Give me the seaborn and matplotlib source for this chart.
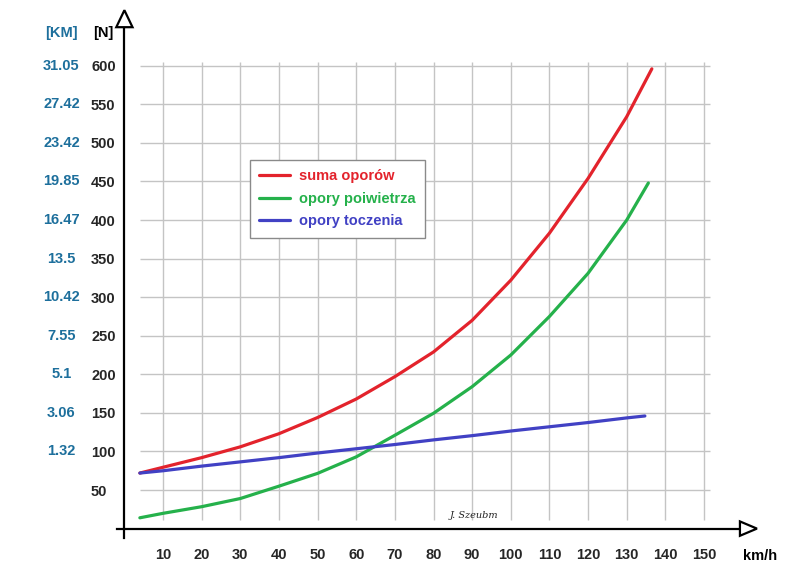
import numpy as np
import pandas as pd
import matplotlib
matplotlib.use("Agg")
import matplotlib.pyplot as plt
import seaborn as sns
from matplotlib.patches import Polygon
from matplotlib.lines import Line2D

# ---- data ----
speed_suma = [4, 10, 20, 30, 40, 50, 60, 70, 80, 90, 100, 110, 120, 130, 136.5]
suma_oporow = [72, 79.5, 92, 106, 123, 144, 168, 197, 229, 270, 322, 383, 454, 534, 596]

speed_pow = [4, 10, 20, 30, 40, 50, 60, 70, 80, 90, 100, 110, 120, 130, 135.6]
opory_powietrza = [14, 19.8, 28.4, 39, 55, 71.6, 93, 121, 149.5, 184, 225, 275, 331, 400, 448]

speed_tocz = [4, 10, 20, 30, 40, 50, 60, 70, 80, 90, 100, 110, 120, 130, 134.7]
opory_toczenia = [72, 75, 81, 86.5, 92, 98, 103.5, 109, 115, 120.5, 126.5, 132, 137.5, 143.5, 146]

series_names = ["suma oporów", "opory poiwietrza", "opory toczenia"]
series_colors = ["#e3232c", "#25b14b", "#4141c4"]

x_ticks = [10, 20, 30, 40, 50, 60, 70, 80, 90, 100, 110, 120, 130, 140, 150]
n_ticks = [50, 100, 150, 200, 250, 300, 350, 400, 450, 500, 550, 600]
km_ticks = [100, 150, 200, 250, 300, 350, 400, 450, 500, 550, 600]
km_labels = ["1.32", "3.06", "5.1", "7.55", "10.42", "13.5", "16.47", "19.85", "23.42", "27.42", "31.05"]

df = pd.concat([
    pd.DataFrame({"v": speed_suma, "F": suma_oporow, "s": series_names[0]}),
    pd.DataFrame({"v": speed_pow, "F": opory_powietrza, "s": series_names[1]}),
    pd.DataFrame({"v": speed_tocz, "F": opory_toczenia, "s": series_names[2]}),
], ignore_index=True)

sns.set_style("white")
FONT = ["Liberation Sans", "DejaVu Sans"]
plt.rcParams["font.family"] = FONT
plt.rcParams["font.weight"] = "bold"
FS = 10.5

fig = plt.figure(figsize=(8, 5.78), dpi=100)
ax = fig.add_axes([0, 0, 1, 1])
# pixel mapping: origin at (124.4, 528.6), 3.864 px per km/h, 0.7714 px per N
px_x, px_y = 3.864, 0.7714
ox, oy = 124.4, 528.6
ax.set_xlim(-ox / px_x, (800 - ox) / px_x)
ax.set_ylim(-(578 - oy) / px_y, oy / px_y)

# grid
ax.hlines(n_ticks, 4, 151.6, color="#c4c4c4", lw=1.0, zorder=1)
ax.vlines(x_ticks, 11, 605, color="#c4c4c4", lw=1.0, zorder=1)

sns.lineplot(data=df, x="v", y="F", hue="s", palette=series_colors, lw=2.3,
             ax=ax, legend=False, zorder=3, sort=False, estimator=None)
ax.set_xlabel("")
ax.set_ylabel("")

# axes lines
for sp in ["top", "right"]:
    ax.spines[sp].set_visible(False)
ax.spines["left"].set_position(("data", 0))
ax.spines["bottom"].set_position(("data", 0))
ax.spines["left"].set_bounds(-12.5, 650)
ax.spines["bottom"].set_bounds(-1.8, 159.3)
for sp in ["left", "bottom"]:
    ax.spines[sp].set_linewidth(1.6)
    ax.spines[sp].set_color("black")

# arrowheads
ax.add_patch(Polygon([[0, 672], [-2.1, 650], [2.1, 650]], closed=True, fc="white",
                     ec="black", lw=1.6, clip_on=False, zorder=5))
ax.add_patch(Polygon([[163.7, 0], [159.3, 9.3], [159.3, -9.3]], closed=True, fc="white",
                     ec="black", lw=1.6, clip_on=False, zorder=5))

# ticks
ax.set_xticks(x_ticks)
ax.set_xticklabels([str(t) for t in x_ticks])
ax.set_yticks(n_ticks)
ax.set_yticklabels([str(t) for t in n_ticks])
ax.tick_params(axis="x", direction="out", length=6, width=1.6, pad=8, labelsize=FS)
ax.tick_params(axis="y", direction="in", length=6, width=1.6, pad=24, labelsize=FS)
for lab in ax.get_yticklabels():
    lab.set_ha("left")
    lab.set_fontweight("bold")
for lab in ax.get_xticklabels():
    lab.set_fontweight("bold")

# KM column
km_color = "#1d6f9c"
for val, lab in zip(km_ticks, km_labels):
    ax.text((61.5 - ox) / px_x, val, lab, ha="center", va="center", color=km_color,
            fontsize=FS, fontweight="bold")
ax.text((61.5 - ox) / px_x, (oy - 33) / px_y, "[KM]", ha="center", va="center",
        color=km_color, fontsize=FS, fontweight="bold")
ax.text((103 - ox) / px_x, (oy - 33) / px_y, "[N]", ha="center", va="center",
        color="black", fontsize=FS, fontweight="bold")
ax.text((760 - ox) / px_x, (oy - 556) / px_y, "km/h", ha="center", va="center",
        color="black", fontsize=FS, fontweight="bold")

# signature
ax.text((474 - ox) / px_x, (oy - 516) / px_y, "J. Szeubm", ha="center", va="center",
        fontsize=7, style="italic", fontweight="normal", family="DejaVu Serif",
        color="#222222")

# legend
handles = [Line2D([0], [0], color=c, lw=2.3) for c in series_colors]
leg = ax.legend(handles, series_names, loc="upper left",
                bbox_to_anchor=(250 / 800, 1 - 160 / 578),
                bbox_transform=fig.transFigure, frameon=True, fancybox=False,
                edgecolor="#8a8a8a", framealpha=1, handlelength=2.1, handletextpad=0.6,
                labelspacing=0.58, borderpad=0.65, borderaxespad=0,
                prop={"weight": "bold", "size": FS, "family": FONT})
leg.get_frame().set_linewidth(1.0)
for t, c in zip(leg.get_texts(), series_colors):
    t.set_color(c)

fig.savefig("out.png", dpi=100)
